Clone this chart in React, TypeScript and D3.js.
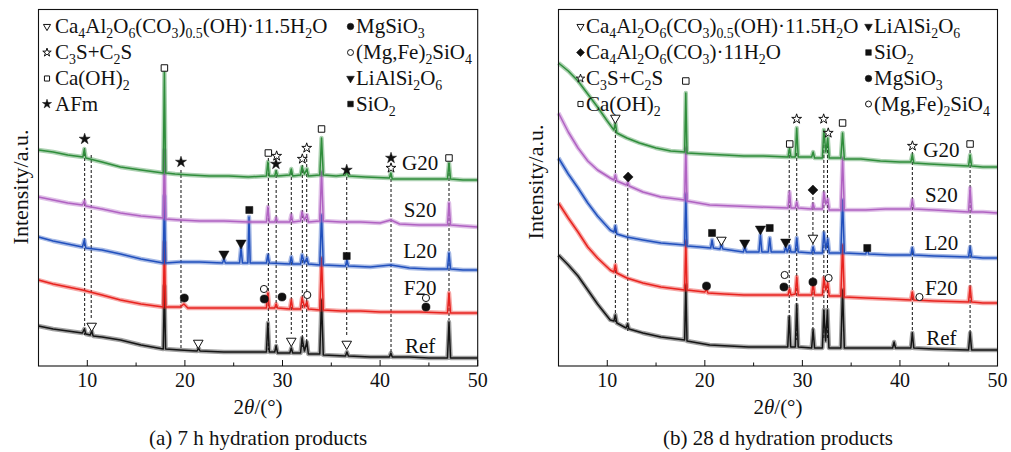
import * as d3 from "d3";

const width = 1011;
const height = 452;

const samples = ["G20", "S20", "L20", "F20", "Ref"];
const sampleColors = ["#2f8d3b", "#b062c2", "#2150bd", "#e8231f", "#151515"];

// XRD patterns, [2θ (°), intensity (a.u., stacked)]
// (a) 7 h
const aG20: [number, number][] = [
  [5, 216], [6.5, 214], [8, 211], [9.55, 209], [9.7, 217], [9.85, 208], [11.5, 204], [13.4, 199], [15.5, 196],
  [17.78, 193], [17.9, 294], [18.02, 193], [19, 192], [20.5, 191], [22.5, 190], [24.5, 190], [26.5, 189],
  [28.35, 190], [28.5, 204], [28.65, 190], [29.2, 190], [29.35, 195], [29.5, 190], [30.75, 191], [30.9, 197],
  [31.05, 190], [31.85, 191], [32.0, 199], [32.25, 192], [32.5, 197], [32.65, 190], [33.82, 191], [34.0, 228],
  [34.18, 191], [35.5, 190], [36.45, 191], [36.6, 195], [36.75, 190], [38.5, 189], [40.95, 188], [41.1, 193],
  [41.25, 187], [43, 187], [45, 187], [46.9, 187], [47.06, 203], [47.22, 187], [48.5, 186], [50, 186],
];
const aS20: [number, number][] = [
  [5, 169], [6.5, 166], [8, 163], [9.5, 161], [9.7, 165], [9.85, 160], [11.5, 157], [13.4, 153], [15.5, 150],
  [17.78, 148], [17.9, 216], [18.02, 147], [19.5, 146], [21.5, 145], [24, 145], [26.5, 144], [28.35, 144],
  [28.5, 159], [28.65, 144], [29.2, 144], [29.35, 148], [29.5, 144], [30.75, 144], [30.9, 151], [31.05, 144],
  [31.85, 145], [32.0, 154], [32.25, 146], [32.5, 151], [32.65, 144], [33.82, 145], [34.0, 194], [34.18, 145],
  [36, 144], [38, 144], [40, 143], [41.1, 146], [42, 142], [44, 141], [46.9, 141], [47.06, 163], [47.22, 141],
  [48.5, 140], [50, 139],
];
const aL20: [number, number][] = [
  [5, 129], [6.5, 125], [8, 122], [9.5, 119], [9.7, 126], [9.85, 118], [11.5, 116], [13.4, 112], [15.5, 107],
  [17.78, 103], [17.9, 170], [18.02, 103], [19.5, 104], [21.5, 104], [23.85, 103], [24.0, 107], [24.15, 103],
  [25.6, 103], [25.75, 118], [25.9, 103], [26.45, 103], [26.57, 149], [26.69, 103], [28.35, 103], [28.5, 111],
  [28.65, 103], [30.75, 102], [30.9, 109], [31.05, 102], [31.85, 102], [32.0, 111], [32.25, 103], [32.5, 108],
  [32.65, 102], [33.82, 101], [34.0, 151], [34.18, 101], [36.45, 100], [36.6, 106], [36.75, 100], [39, 99],
  [41.1, 101], [43, 98], [45, 97], [46.9, 97], [47.06, 113], [47.22, 97], [48.5, 96], [50, 96],
];
const aF20: [number, number][] = [
  [5, 86], [6.5, 82], [8, 79], [9.5, 76], [11.5, 71], [13.4, 66], [15.5, 62], [17.78, 59], [17.9, 124],
  [18.02, 59], [19.5, 59], [19.9, 62], [20.3, 58], [22, 58], [24, 58], [26, 58], [28.35, 58], [28.5, 73],
  [28.65, 58], [29.2, 58], [29.35, 62], [29.5, 58], [30.75, 57], [30.9, 66], [31.05, 57], [31.85, 57],
  [32.0, 68], [32.25, 59], [32.5, 64], [32.65, 57], [33.82, 56], [34.0, 108], [34.18, 56], [36, 55], [38, 55],
  [40, 54], [42, 54], [44, 54], [46.9, 53], [47.06, 73], [47.22, 53], [48.5, 53], [50, 53],
];
const aRef: [number, number][] = [
  [5, 40], [6.5, 37], [8, 35], [9.5, 33], [9.7, 37], [9.85, 32], [10.3, 31], [10.45, 35], [10.6, 30],
  [11.5, 29], [13.4, 26], [15.5, 21], [17.78, 17], [17.9, 80], [18.02, 17], [19.5, 16], [21.25, 15], [21.4, 18],
  [21.55, 15], [24, 14], [26, 14], [28.35, 14], [28.5, 43], [28.65, 14], [29.2, 14], [29.35, 20], [29.5, 13],
  [30.75, 13], [30.9, 18], [31.05, 13], [31.85, 13], [32.0, 28], [32.25, 15], [32.5, 24], [32.65, 12],
  [33.82, 12], [34.0, 66], [34.18, 11], [36.45, 10], [36.6, 14], [36.75, 10], [39, 9], [40.95, 9], [41.1, 13],
  [41.25, 9], [43, 9], [45, 8], [46.9, 8], [47.06, 44], [47.22, 8], [48.5, 8], [50, 8],
];

// (b) 28 d
const bG20: [number, number][] = [
  [5, 303], [6, 295], [7, 285], [8, 272], [9, 259], [10, 245], [10.68, 236], [10.83, 243], [10.98, 233],
  [12, 228], [13.3, 223], [15, 218], [16.5, 215], [17.93, 214], [18.05, 273], [18.17, 213], [20, 212],
  [22, 211], [24, 210], [26, 210], [28.53, 209], [28.68, 218], [28.83, 209], [29.27, 209], [29.42, 238],
  [29.57, 209], [30.95, 209], [31.1, 214], [31.25, 208], [32.05, 208], [32.2, 236], [32.4, 214], [32.6, 228],
  [32.75, 208], [33.94, 208], [34.12, 233], [34.3, 207], [36, 207], [38, 205], [40, 204], [41.12, 204],
  [41.27, 211], [41.42, 203], [43, 202], [45, 201], [47.03, 200], [47.19, 211], [47.35, 200], [48.5, 199],
  [50, 199],
];
const bS20: [number, number][] = [
  [5, 253], [6, 234], [7, 218], [8, 205], [9, 196], [10.3, 188], [10.68, 186], [10.83, 191], [10.98, 185],
  [11.95, 181], [12.1, 184], [12.25, 180], [13.65, 174], [15.5, 169], [17.93, 166], [18.05, 218], [18.17, 165],
  [20.5, 161], [23, 160], [25.5, 159], [28.53, 158], [28.68, 174], [28.83, 158], [29.27, 158], [29.42, 164],
  [29.57, 158], [30.95, 157], [31.1, 162], [31.25, 157], [32.05, 157], [32.2, 173], [32.4, 162], [32.6, 167],
  [32.75, 156], [33.94, 156], [34.12, 208], [34.3, 156], [36.5, 156], [38.5, 157], [41.12, 157], [41.27, 166],
  [41.42, 157], [43.5, 156], [47.03, 154], [47.19, 178], [47.35, 154], [48.5, 154], [50, 153],
];
const bL20: [number, number][] = [
  [5, 208], [6, 192], [7, 178], [8, 163], [9, 150], [10.3, 136], [10.68, 134], [10.83, 140], [10.98, 132],
  [12, 129], [13.65, 126], [15.5, 123], [17.93, 121], [18.05, 172], [18.17, 120], [19.5, 119], [20.6, 118],
  [20.74, 126], [20.88, 118], [21.55, 117], [21.7, 122], [21.85, 117], [23.95, 114], [24.1, 119], [24.25, 114],
  [25.55, 114], [25.7, 131], [25.85, 114], [26.5, 114], [26.65, 128], [26.8, 114], [28.15, 114], [28.29, 119],
  [28.45, 114], [28.68, 120], [28.83, 114], [29.27, 114], [29.42, 128], [29.57, 114], [30.95, 113], [31.1, 119],
  [31.25, 113], [32.05, 113], [32.2, 133], [32.4, 117], [32.6, 127], [32.75, 113], [33.94, 113], [34.12, 166],
  [34.3, 113], [36.5, 112], [36.65, 118], [36.8, 112], [39, 111], [41.12, 111], [41.27, 118], [41.42, 111],
  [43.5, 110], [47.03, 109], [47.19, 119], [47.35, 109], [48.5, 108], [50, 108],
];
const bF20: [number, number][] = [
  [5, 163], [6, 148], [7, 134], [8, 119], [9, 108], [10.3, 96], [10.68, 94], [10.83, 101], [10.98, 93],
  [12, 88], [13.65, 83], [15.5, 79], [17.93, 76], [18.05, 125], [18.17, 76], [20, 74], [20.17, 77],
  [20.32, 73], [22, 72], [24, 71], [26, 71], [28.53, 71], [28.68, 77], [28.83, 71], [29.27, 72], [29.42, 89],
  [29.57, 71], [30.95, 71], [31.1, 83], [31.25, 71], [32.05, 71], [32.2, 88], [32.4, 76], [32.6, 83],
  [32.75, 70], [33.94, 70], [34.12, 121], [34.3, 69], [36.5, 68], [39, 67], [41.12, 66], [41.27, 74],
  [41.42, 66], [43.5, 65], [47.03, 64], [47.19, 79], [47.35, 64], [48.5, 63], [50, 63],
];
const bRef: [number, number][] = [
  [5, 111], [6, 101], [7, 90], [8, 76], [9, 62], [10.3, 46], [10.68, 45], [10.83, 51], [10.98, 43],
  [11.93, 38], [12.08, 42], [12.23, 37], [13.65, 33], [15.5, 29], [17.93, 26], [18.05, 81], [18.17, 25],
  [20.5, 21], [22.5, 20], [24.5, 19], [26.5, 19], [28.5, 19], [28.65, 49], [28.8, 19], [29.27, 19],
  [29.42, 61], [29.57, 19], [30.95, 18], [31.1, 36], [31.25, 18], [32.05, 18], [32.2, 56], [32.38, 25],
  [32.57, 56], [32.72, 18], [33.94, 18], [34.12, 76], [34.3, 18], [36.5, 18], [39.25, 18], [39.4, 24],
  [39.55, 18], [41.12, 18], [41.27, 33], [41.42, 18], [43.5, 17], [47.03, 16], [47.19, 33], [47.35, 16],
  [48.5, 16], [50, 16],
];

// phase markers: [symbol, 2θ, intensity]
type Mark = [string, number, number];
const aMarks: Mark[] = [
  ["star", 9.73, 227], ["sqO", 17.9, 298], ["star", 19.6, 204], ["sqO", 28.55, 213], ["starO", 29.4, 210],
  ["star", 29.33, 202], ["starO", 32.03, 207], ["starO", 32.48, 218], ["sqO", 34.0, 237], ["star", 36.58, 196],
  ["star", 41.12, 208], ["starO", 41.12, 198], ["sqO", 47.06, 208], ["sq", 26.6, 156], ["tri", 25.75, 123],
  ["tri", 24.0, 112], ["sq", 36.58, 110], ["dot", 19.94, 68], ["dotO", 28.1, 77], ["dot", 28.13, 67],
  ["dot", 29.95, 69], ["dotO", 32.54, 71], ["dotO", 44.7, 68], ["dot", 44.7, 59], ["triO", 10.45, 40],
  ["triO", 21.37, 23], ["triO", 30.9, 25], ["triO", 36.58, 22],
];
const bMarks: Mark[] = [
  ["triO", 10.83, 248], ["sqO", 18.05, 285], ["starO", 29.41, 247], ["starO", 32.18, 247], ["starO", 32.65, 233],
  ["sqO", 34.12, 243], ["sqO", 28.7, 222], ["starO", 41.28, 220], ["sqO", 47.19, 222], ["dia", 12.14, 189],
  ["dia", 31.08, 176], ["sq", 20.74, 133], ["triO", 21.7, 126], ["tri", 24.09, 123], ["tri", 25.7, 137],
  ["sq", 26.65, 138], ["tri", 28.29, 124], ["triO", 31.08, 128], ["sq", 36.65, 118], ["dot", 20.17, 80],
  ["dotO", 28.18, 91], ["dot", 28.11, 79], ["dot", 31.08, 84], ["dotO", 32.69, 88], ["dotO", 42.0, 69],
];

// reference lines: [2θ, top, bottom]
const aDrops: [number, number, number][] = [
  [9.73, 218, 31], [10.4, 211, 46], [19.6, 196, 17], [28.55, 208, 16], [29.35, 196, 16], [30.9, 194, 32],
  [32.03, 201, 19], [32.48, 212, 19], [36.58, 189, 29], [41.12, 192, 10], [47.06, 203, 46],
];
const bDrops: [number, number, number][] = [
  [10.83, 241, 44], [12.1, 183, 34], [28.65, 216, 31], [29.42, 213, 26], [31.08, 169, 28], [32.2, 226, 28],
  [32.57, 226, 28], [41.27, 214, 31], [47.19, 216, 31],
];

// legends: [symbol, label]
const aLegendLeft: [string, string][] = [
  ["triO", "Ca_4Al_2O_6(CO_3)_{0.5}(OH)·11.5H_2O"], ["starO", "C_3S+C_2S"], ["sqO", "Ca(OH)_2"], ["star", "AFm"],
];
const aLegendRight: [string, string][] = [
  ["dot", "MgSiO_3"], ["dotO", "(Mg,Fe)_2SiO_4"], ["tri", "LiAlSi_2O_6"], ["sq", "SiO_2"],
];
const bLegendLeft: [string, string][] = [
  ["triO", "Ca_4Al_2O_6(CO_3)_{0.5}(OH)·11.5H_2O"], ["dia", "Ca_4Al_2O_6(CO_3)·11H_2O"], ["starO", "C_3S+C_2S"],
  ["sqO", "Ca(OH)_2"],
];
const bLegendRight: [string, string][] = [
  ["tri", "LiAlSi_2O_6"], ["sq", "SiO_2"], ["dot", "MgSiO_3"], ["dotO", "(Mg,Fe)_2SiO_4"],
];

const xTicks = [5, 10, 15, 20, 25, 30, 35, 40, 45, 50];

const panels = [
  {
    left: 38.5, right: 477.7, series: [aG20, aS20, aL20, aF20, aRef], marks: aMarks, drops: aDrops,
    legendL: aLegendLeft, legendR: aLegendRight, legL: [47, 55], legR: [350.5, 356],
    labelX: 44.1, labelY: [170, 217, 258, 295, 353], yTitleX: 20, yTitleY: 187,
    caption: "(a) 7 h hydration products",
  },
  {
    left: 558.5, right: 997.5, series: [bG20, bS20, bL20, bF20, bRef], marks: bMarks, drops: bDrops,
    legendL: bLegendLeft, legendR: bLegendRight, legL: [580.5, 586], legR: [868.5, 874],
    labelX: 44.25, labelY: [157, 202, 250, 295, 345], yTitleX: 535, yTitleY: 182,
    caption: "(b) 28 d hydration products",
  },
];

const plotTop = 9.5;
const plotBottom = 366;
const font = "'Liberation Serif', 'Times New Roman', serif";

const symbolDefs: Record<string, [d3.SymbolType, boolean, number, number, number]> = {
  // type, filled, rotation, chart size, legend size
  star: [d3.symbolStar, true, 0, 38, 26],
  starO: [d3.symbolStar, false, 0, 30, 22],
  sq: [d3.symbolSquare, true, 0, 50, 32],
  sqO: [d3.symbolSquare, false, 0, 42, 26],
  dot: [d3.symbolCircle, true, 0, 52, 34],
  dotO: [d3.symbolCircle, false, 0, 40, 28],
  tri: [d3.symbolTriangle, true, 180, 45, 26],
  triO: [d3.symbolTriangle, false, 180, 40, 22],
  dia: [d3.symbolSquare, true, 45, 50, 32],
};

function Marker({ kind, x, y, legend }: { kind: string; x: number; y: number; legend?: boolean }) {
  const [type, filled, rot, size, lsize] = symbolDefs[kind];
  const d = d3.symbol(type, legend ? lsize : size)() as string;
  return (
    <path
      d={d}
      transform={`translate(${x},${y}) rotate(${rot})`}
      fill={filled ? "#111" : "white"}
      stroke="#111"
      strokeWidth={filled ? 0.5 : 1}
    />
  );
}

// "_x" or "_{..}" marks a subscript
function Rich({ text, x, y, size }: { text: string; x: number; y: number; size: number }) {
  const parts: JSX.Element[] = [];
  const re = /_\{([^}]*)\}|_(.)|([^_]+)/g;
  let m: RegExpExecArray | null;
  let shifted = false;
  let i = 0;
  const shift = 5;
  while ((m = re.exec(text))) {
    const sub = m[1] !== undefined ? m[1] : m[2];
    if (sub !== undefined) {
      parts.push(
        <tspan key={i++} dy={shifted ? 0 : shift} fontSize={size * 0.66}>
          {sub}
        </tspan>,
      );
      shifted = true;
    } else {
      parts.push(
        <tspan key={i++} dy={shifted ? -shift : 0}>
          {m[3]}
        </tspan>,
      );
      shifted = false;
    }
  }
  return (
    <text x={x} y={y} fontSize={size} fill="#111">
      {parts}
    </text>
  );
}

function Panel({ p }: { p: (typeof panels)[number] }) {
  const x = d3.scaleLinear().domain([5, 50]).range([p.left, p.right]);
  const y = d3.scaleLinear().domain([0, plotBottom - plotTop]).range([plotBottom, plotTop]);
  const line = d3
    .line<[number, number]>()
    .x((d) => x(d[0]))
    .y((d) => y(d[1]));
  const mid = (p.left + p.right) / 2;
  const rowY = [33, 59, 85, 110.5];
  const order = [4, 3, 2, 1, 0];

  return (
    <g>
      {p.drops.map(([t, a, b], i) => (
        <line key={i} x1={x(t)} x2={x(t)} y1={y(a)} y2={y(b)} stroke="#111" strokeWidth={1} strokeDasharray="3,2" />
      ))}
      {order.map((i) => (
        <g key={samples[i]}>
          <path d={line(p.series[i]) as string} fill="none" stroke={sampleColors[i]} strokeWidth={4.4} strokeOpacity={0.4} strokeLinejoin="round" />
          <path d={line(p.series[i]) as string} fill="none" stroke={sampleColors[i]} strokeWidth={1.5} strokeLinejoin="round" />
        </g>
      ))}
      {p.marks.map(([k, t, v], i) => (
        <Marker key={i} kind={k} x={x(t)} y={y(v)} />
      ))}
      {samples.map((s, i) => (
        <text key={s} x={x(p.labelX)} y={p.labelY[i]} textAnchor="middle" fontSize={21} fill="#111">
          {s}
        </text>
      ))}
      <rect x={p.left} y={plotTop} width={p.right - p.left} height={plotBottom - plotTop} fill="none" stroke="#111" strokeWidth={1.1} />
      {xTicks.map((t) => (
        <g key={t}>
          <line x1={x(t)} x2={x(t)} y1={plotBottom} y2={plotBottom - (t % 10 === 0 ? 6 : 3.5)} stroke="#111" strokeWidth={1} />
          {t % 10 === 0 && (
            <text x={x(t)} y={387} textAnchor="middle" fontSize={20} fill="#111">
              {t}
            </text>
          )}
        </g>
      ))}
      <text x={mid} y={414} textAnchor="middle" fontSize={21} fill="#111">
        2<tspan fontStyle="italic">θ</tspan>/(°)
      </text>
      <text x={mid} y={445} textAnchor="middle" fontSize={21} fill="#111">
        {p.caption}
      </text>
      <text
        transform={`translate(${p.yTitleX},${p.yTitleY}) rotate(-90)`}
        textAnchor="middle"
        dominantBaseline="central"
        fontSize={22}
        fill="#111"
      >
        Intensity/a.u.
      </text>
      {p.legendL.map(([k, label], i) => (
        <g key={"l" + i}>
          <Marker kind={k} x={p.legL[0]} y={rowY[i] - 6.5} legend />
          <Rich text={label} x={p.legL[1]} y={rowY[i]} size={21} />
        </g>
      ))}
      {p.legendR.map(([k, label], i) => (
        <g key={"r" + i}>
          <Marker kind={k} x={p.legR[0]} y={rowY[i] - 6.5} legend />
          <Rich text={label} x={p.legR[1]} y={rowY[i]} size={21} />
        </g>
      ))}
    </g>
  );
}

export default function App() {
  return (
    <svg
      width={width}
      height={height}
      viewBox={`0 0 ${width} ${height}`}
      style={{ position: "absolute", left: 0, top: 0, background: "white", fontFamily: font }}
    >
      <rect width={width} height={height} fill="white" />
      {panels.map((p, i) => (
        <Panel key={i} p={p} />
      ))}
    </svg>
  );
}
